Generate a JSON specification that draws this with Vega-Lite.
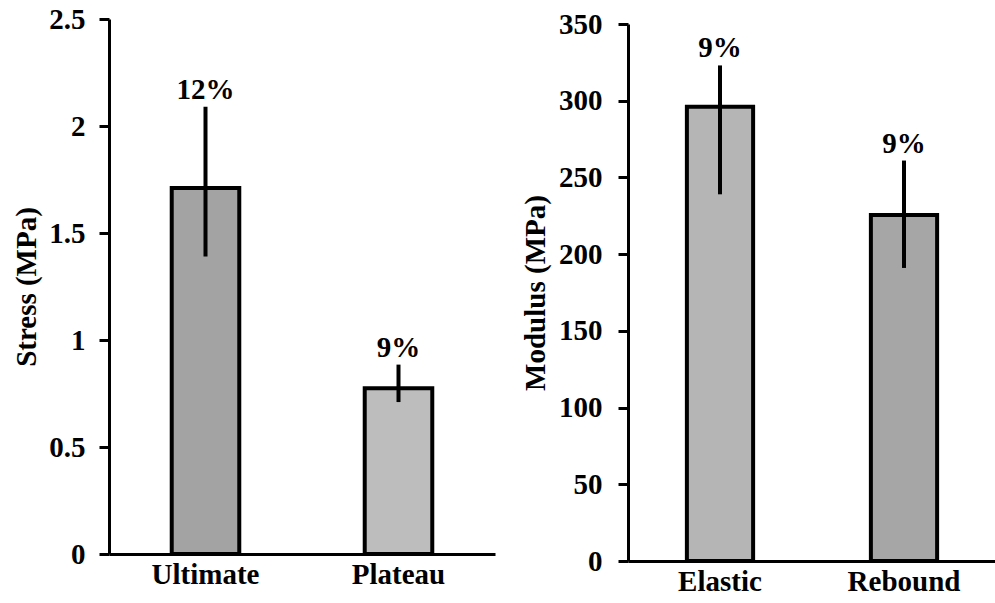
{
  "$schema": "https://vega.github.io/schema/vega-lite/v6.json",
  "background": "white",
  "padding": {"left": 12, "top": 5, "right": 0, "bottom": 0},
  "spacing": 26,
  "resolve": {"scale": {"color": "independent"}},
  "config": {
    "font": "Liberation Serif",
    "view": {"stroke": null},
    "axis": {
      "domainColor": "black",
      "domainWidth": 3,
      "tickColor": "black",
      "tickWidth": 3,
      "tickSize": 10,
      "grid": false,
      "labelFont": "Liberation Serif",
      "labelFontSize": 29,
      "labelFontWeight": "bold",
      "labelColor": "black",
      "titleFont": "Liberation Serif",
      "titleFontSize": 29,
      "titleFontWeight": "bold",
      "titleColor": "black",
      "labelPadding": 14,
      "titlePadding": 7
    }
  },
  "hconcat": [
    {
      "width": 386,
      "height": 535,
      "data": {"values": [
        {"cat": "Ultimate", "value": 1.71, "lo": 1.39, "hi": 2.09, "pct": "12%"},
        {"cat": "Plateau", "value": 0.775, "lo": 0.71, "hi": 0.885, "pct": "9%"}
      ]},
      "encoding": {
        "x": {"field": "cat", "type": "nominal", "sort": null,
              "scale": {"paddingInner": 0, "paddingOuter": 0},
              "axis": {"title": null, "ticks": false, "labelAngle": 0, "labelPadding": 6}}
      },
      "layer": [
        {
          "mark": {"type": "bar", "width": {"band": 0.35}, "stroke": "black", "strokeWidth": 4},
          "encoding": {
            "y": {"field": "value", "type": "quantitative",
                  "scale": {"domain": [0, 2.5], "nice": false},
                  "axis": {"title": "Stress (MPa)", "values": [0, 0.5, 1, 1.5, 2, 2.5], "labelExpr": "'' + datum.value"}},
            "color": {"field": "cat", "type": "nominal", "legend": null,
                      "scale": {"domain": ["Ultimate", "Plateau"], "range": ["#a3a3a3", "#bdbdbd"]}}
          }
        },
        {
          "mark": {"type": "rule", "strokeWidth": 4, "color": "black"},
          "encoding": {
            "y": {"field": "lo", "type": "quantitative"},
            "y2": {"field": "hi"}
          }
        },
        {
          "mark": {"type": "text", "baseline": "alphabetic", "dy": -8, "font": "Liberation Serif", "fontSize": 29, "fontWeight": "bold", "color": "black"},
          "encoding": {
            "y": {"field": "hi", "type": "quantitative"},
            "text": {"field": "pct"}
          }
        }
      ]
    },
    {
      "width": 368,
      "height": 542,
      "data": {"values": [
        {"cat": "Elastic", "value": 296, "lo": 239, "hi": 323, "pct": "9%"},
        {"cat": "Rebound", "value": 225.5, "lo": 191, "hi": 261, "pct": "9%"}
      ]},
      "encoding": {
        "x": {"field": "cat", "type": "nominal", "sort": null,
              "scale": {"paddingInner": 0, "paddingOuter": 0},
              "axis": {"title": null, "ticks": false, "labelAngle": 0, "labelPadding": 6}}
      },
      "layer": [
        {
          "mark": {"type": "bar", "width": {"band": 0.36}, "stroke": "black", "strokeWidth": 4},
          "encoding": {
            "y": {"field": "value", "type": "quantitative",
                  "scale": {"domain": [0, 350], "nice": false, "range": [542, 5]},
                  "axis": {"title": "Modulus (MPa)", "values": [0, 50, 100, 150, 200, 250, 300, 350], "labelPadding": 16, "titlePadding": 8}},
            "color": {"field": "cat", "type": "nominal", "legend": null,
                      "scale": {"domain": ["Elastic", "Rebound"], "range": ["#b5b5b5", "#a6a6a6"]}}
          }
        },
        {
          "mark": {"type": "rule", "strokeWidth": 4, "color": "black"},
          "encoding": {
            "y": {"field": "lo", "type": "quantitative"},
            "y2": {"field": "hi"}
          }
        },
        {
          "mark": {"type": "text", "baseline": "alphabetic", "dy": -8, "font": "Liberation Serif", "fontSize": 29, "fontWeight": "bold", "color": "black"},
          "encoding": {
            "y": {"field": "hi", "type": "quantitative"},
            "text": {"field": "pct"}
          }
        }
      ]
    }
  ]
}
